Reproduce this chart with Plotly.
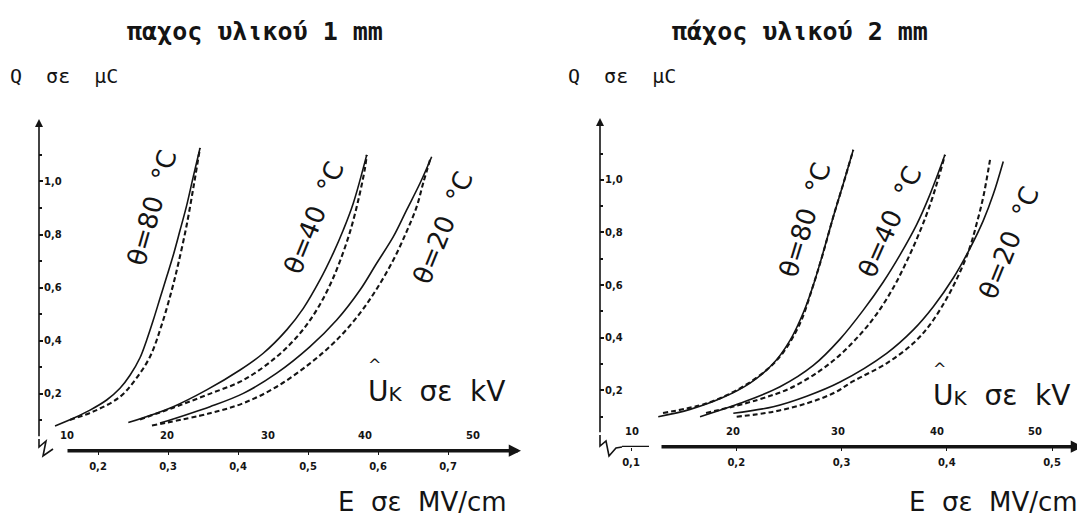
import plotly.graph_objects as go

# the page adds an 8 px body margin, so the figure is drawn 8 px smaller
OFF = 8
W, H = 1085 - OFF, 520 - OFF

# ---------------- data ----------------
# left panel: thickness 1 mm   (E in MV/cm, Q in uC)
l80s_e = [0.1386, 0.1647, 0.1886, 0.2124, 0.2314, 0.2457, 0.2600, 0.2696, 0.2790, 0.2886, 0.2981, 0.3076, 0.3171, 0.3267, 0.3361, 0.3457]
l80s_q = [0.079, 0.108, 0.139, 0.177, 0.221, 0.270, 0.336, 0.403, 0.478, 0.560, 0.641, 0.723, 0.815, 0.910, 1.018, 1.125]
l80d_e = [0.1600, 0.1980, 0.2314, 0.2529, 0.2743, 0.2910, 0.3053, 0.3147, 0.3267, 0.3371, 0.3457]
l80d_q = [0.102, 0.139, 0.189, 0.252, 0.340, 0.460, 0.590, 0.690, 0.836, 0.990, 1.126]
l40s_e = [0.2433, 0.3076, 0.3553, 0.4029, 0.4361, 0.4696, 0.4933, 0.5171, 0.5361, 0.5504, 0.5647, 0.5839]
l40s_q = [0.092, 0.152, 0.215, 0.290, 0.353, 0.441, 0.522, 0.629, 0.730, 0.817, 0.918, 1.100]
l40d_e = [0.2600, 0.3076, 0.3553, 0.4076, 0.4553, 0.4886, 0.5124, 0.5314, 0.5457, 0.5600, 0.5719, 0.5814, 0.5839]
l40d_q = [0.104, 0.148, 0.196, 0.252, 0.340, 0.428, 0.516, 0.610, 0.700, 0.810, 0.930, 1.050, 1.100]
l20s_e = [0.2886, 0.3600, 0.4076, 0.4553, 0.5029, 0.5410, 0.5743, 0.5981, 0.6219, 0.6410, 0.6600, 0.6767]
l20s_q = [0.090, 0.152, 0.202, 0.278, 0.378, 0.478, 0.591, 0.692, 0.792, 0.893, 0.993, 1.093]
l20d_e = [0.2771, 0.3600, 0.4076, 0.4553, 0.5029, 0.5410, 0.5743, 0.5981, 0.6219, 0.6410, 0.6553, 0.6647, 0.6743]
l20d_q = [0.081, 0.127, 0.165, 0.227, 0.315, 0.403, 0.504, 0.595, 0.704, 0.812, 0.905, 0.995, 1.081]

# right panel: thickness 2 mm
r80s_e = [0.1259, 0.1561, 0.1877, 0.2131, 0.2352, 0.2511, 0.2637, 0.2732, 0.2812, 0.2922, 0.3017, 0.3112]
r80s_q = [0.100, 0.128, 0.174, 0.228, 0.302, 0.390, 0.495, 0.600, 0.705, 0.860, 0.985, 1.114]
r80d_e = [0.1304, 0.1719, 0.2036, 0.2289, 0.2447, 0.2606, 0.2732, 0.2824, 0.2922, 0.3017, 0.3112]
r80d_q = [0.114, 0.151, 0.208, 0.278, 0.345, 0.455, 0.600, 0.720, 0.860, 0.985, 1.114]
r40s_e = [0.1656, 0.2036, 0.2416, 0.2732, 0.2986, 0.3207, 0.3397, 0.3556, 0.3714, 0.3841, 0.3983]
r40s_q = [0.100, 0.151, 0.214, 0.295, 0.395, 0.505, 0.612, 0.715, 0.830, 0.945, 1.095]
r40d_e = [0.1713, 0.2194, 0.2511, 0.2796, 0.2986, 0.3176, 0.3334, 0.3492, 0.3619, 0.3746, 0.3841, 0.3920, 0.3983]
r40d_q = [0.114, 0.163, 0.208, 0.275, 0.335, 0.412, 0.490, 0.590, 0.690, 0.805, 0.905, 1.005, 1.095]
r20s_e = [0.1972, 0.2352, 0.2669, 0.2986, 0.3429, 0.3682, 0.3872, 0.4062, 0.4221, 0.4347, 0.4442, 0.4537]
r20s_q = [0.113, 0.138, 0.178, 0.232, 0.341, 0.430, 0.518, 0.627, 0.740, 0.845, 0.945, 1.070]
r20d_e = [0.2004, 0.2352, 0.2669, 0.2922, 0.3112, 0.3429, 0.3682, 0.3841, 0.4000, 0.4126, 0.4221, 0.4285, 0.4347, 0.4411]
r20d_q = [0.100, 0.119, 0.151, 0.189, 0.235, 0.303, 0.379, 0.450, 0.550, 0.650, 0.745, 0.835, 0.935, 1.076]

# axis ticks
e_ticks_left = [0.2, 0.3, 0.4, 0.5, 0.6, 0.7]
e_ticks_right = [0.1, 0.2, 0.3, 0.4, 0.5]
q_ticks = [0.2, 0.4, 0.6, 0.8, 1.0]
q_minor = [0.1, 0.3, 0.5, 0.7, 0.9, 1.1]
# secondary scale: peak voltage U_k in kV, and where it sits on the E axis
u_labels = ["10", "20", "30", "40", "50"]
u_pos_left = [0.1553, 0.2986, 0.4429, 0.5814, 0.7357]
u_pos_right = [0.1007, 0.1969, 0.2967, 0.3905, 0.4838]

temps = ["θ=80  °C", "θ=40  °C", "θ=20  °C"]

# ---------------- figure ----------------
def fx(px):
    return (px - OFF) / W

def fy(py):
    return 1 - (py - OFF) / H

INK = "#141414"
fig = go.Figure()

left_sets = [(l80s_e, l80s_q, l80d_e, l80d_q), (l40s_e, l40s_q, l40d_e, l40d_q), (l20s_e, l20s_q, l20d_e, l20d_q)]
right_sets = [(r80s_e, r80s_q, r80d_e, r80d_q), (r40s_e, r40s_q, r40d_e, r40d_q), (r20s_e, r20s_q, r20d_e, r20d_q)]

for sets, xa, ya in [(left_sets, "x", "y"), (right_sets, "x2", "y2")]:
    for se, sq, de, dq in sets:
        fig.add_trace(go.Scatter(x=se, y=sq, mode="lines", xaxis=xa, yaxis=ya,
                                 line=dict(color=INK, width=1.6, shape="spline", smoothing=1.0),
                                 hoverinfo="skip"))
        fig.add_trace(go.Scatter(x=de, y=dq, mode="lines", xaxis=xa, yaxis=ya,
                                 line=dict(color=INK, width=2.1, dash="5px,3px", shape="spline", smoothing=1.0),
                                 hoverinfo="skip"))

YR = [-0.015, 1.235]
QAX = -0.014
XL = [0.2 + (39 - 98) / 700, 0.2 + (525 - 98) / 700]
XR = [0.1 + (600 - 631) / 1052.5, 0.1 + (1085 - 631) / 1052.5]

tickfont = dict(family="DejaVu Sans", size=10, color=INK, weight="bold")
common_x = dict(showgrid=False, zeroline=False, showline=False, ticks="outside", ticklen=3,
                tickwidth=1, tickcolor=INK, tickfont=tickfont, ticklabelstandoff=3)
common_y = dict(showgrid=False, zeroline=False, showline=False, range=YR, ticks="inside", ticklen=4,
                tickwidth=1.5, tickcolor=INK, tickfont=tickfont, ticklabelposition="inside",
                tickvals=q_ticks, ticktext=[f"{v:.1f}".replace(".", ",") for v in q_ticks],
                minor=dict(tickmode="array", tickvals=q_minor, ticks="inside", ticklen=3, tickcolor=INK))

fig.update_layout(
    width=W, height=H, margin=dict(l=0, r=0, t=0, b=0),
    paper_bgcolor="white", plot_bgcolor="white", showlegend=False,
    font=dict(family="DejaVu Sans", color=INK),
    xaxis=dict(domain=[fx(39), fx(525)], range=XL, anchor="y", tickvals=e_ticks_left,
               ticktext=[f"{v:.1f}".replace(".", ",") for v in e_ticks_left], **common_x),
    yaxis=dict(domain=[fy(451), fy(119)], anchor="x", **common_y),
    xaxis2=dict(domain=[fx(600), 1.0], range=XR, anchor="y2", tickvals=e_ticks_right,
                ticktext=[f"{v:.1f}".replace(".", ",") for v in e_ticks_right], **common_x),
    yaxis2=dict(domain=[fy(447), fy(118)], anchor="x2", **common_y),
)

ann = []
shapes = []

# axis lines with arrows
for xa, ya, xr, e0, e1 in [("x", "y", XL, 0.2 + (66 - 98) / 700, 0.2 + (521 - 98) / 700),
                           ("x2", "y2", XR, 0.1 + (660 - 631) / 1052.5, 0.1 + (1083 - 631) / 1052.5)]:
    ann.append(dict(x=e1, y=QAX, xref=xa, yref=ya, ax=e0, ay=QAX, axref=xa, ayref=ya, text="",
                    showarrow=True, arrowhead=2, arrowsize=0.7, arrowwidth=3.5, arrowcolor=INK))
    ann.append(dict(x=xr[0], y=YR[1], xref=xa, yref=ya, ax=xr[0], ay=0.035, axref=xa, ayref=ya, text="",
                    showarrow=True, arrowhead=2, arrowsize=1.0, arrowwidth=1.6, arrowcolor=INK))

# short segment of right E axis near 0.1
shapes.append(dict(type="line", xref="x2", yref="y2", x0=0.1 + (622 - 631) / 1052.5, x1=0.1 + (649 - 631) / 1052.5,
                   y0=QAX, y1=QAX, line=dict(color=INK, width=2)))

def path(pts):
    return "M " + " L ".join(f"{fx(a):.5f},{fy(b):.5f}" for a, b in pts)

shapes.append(dict(type="path", xref="paper", yref="paper",
                   path=path([(39, 439), (39, 447), (46, 441), (43, 456), (53, 449)]),
                   line=dict(color=INK, width=1.6)))
shapes.append(dict(type="path", xref="paper", yref="paper",
                   path=path([(600, 435), (600, 446), (606, 441), (609, 456), (616, 448), (622, 447)]),
                   line=dict(color=INK, width=1.6)))

# secondary U_k tick labels
for xa, ya, pos in [("x", "y", u_pos_left), ("x2", "y2", u_pos_right)]:
    for p, t in zip(pos, u_labels):
        ann.append(dict(x=p, y=QAX, xref=xa, yref=ya, yshift=15, text=t, showarrow=False,
                        font=dict(family="DejaVu Sans", size=10, color=INK, weight="bold")))

def txt(px, py, text, size, family="DejaVu Sans", xanchor="center", angle=0):
    ann.append(dict(x=fx(px), y=fy(py), xref="paper", yref="paper", text=text, textangle=angle,
                    showarrow=False, xanchor=xanchor, yanchor="middle",
                    font=dict(family=family, size=size, color=INK)))

# temperature labels
lab_left = [(152, 208, -74), (314, 218, -68), (443, 228, -68)]
lab_right = [(805, 220, -73), (890, 222, -66), (1009, 243, -68)]
for (cx, cy, ang), t in list(zip(lab_left, temps)) + list(zip(lab_right, temps)):
    txt(cx, cy, t, 26, angle=ang)

# titles and axis titles
txt(255, 31, "<b>παχος υλικού 1 mm</b>", 25, family="DejaVu Sans Mono")
txt(800, 31, "<b>πάχος υλικού 2 mm</b>", 25, family="DejaVu Sans Mono")
for x0 in (8, 566):
    txt(x0, 76, "Q  σε  μC", 20, family="DejaVu Sans Mono", xanchor="left")
for x0, y0, hx, hy in [(366, 391, 374, 364), (931, 395, 939, 368)]:
    txt(x0, y0, "U<span style='font-size:20px'>K</span>  σε  kV", 28, xanchor="left")
    txt(hx, hy, "^", 16)
for x0 in (336, 907):
    txt(x0, 502, "E  σε  MV/cm", 26, xanchor="left")

fig.update_layout(annotations=ann, shapes=shapes)
fig.write_html("out.html")
